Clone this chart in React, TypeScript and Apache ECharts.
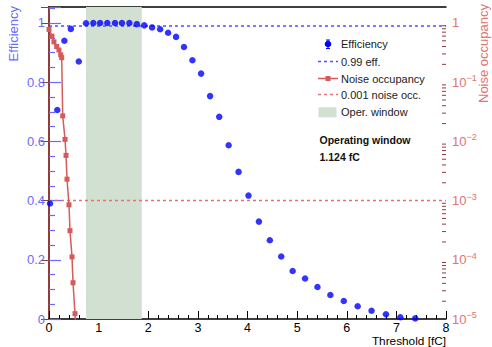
import React, { useEffect, useRef } from "react";
import * as echarts from "echarts";

// Efficiency scan (threshold in fC, efficiency)
const effThreshold = [0.02, 0.167, 0.31, 0.44, 0.6, 0.746, 0.894, 1.03, 1.175, 1.33, 1.47, 1.62, 1.77, 1.92, 2.077, 2.24, 2.4, 2.56, 2.72, 2.89, 3.065, 3.246, 3.43, 3.62, 3.82, 4.02, 4.23, 4.45, 4.68, 4.91, 5.16, 5.41, 5.67, 5.94, 6.22, 6.5, 6.79, 7.08, 7.38];
const effValue = [0.39, 0.706, 0.94, 0.98, 0.87, 0.999, 1.0, 1.0, 1.0, 1.0, 1.0, 1.0, 0.996, 0.992, 0.985, 0.979, 0.967, 0.953, 0.919, 0.874, 0.829, 0.753, 0.683, 0.587, 0.497, 0.417, 0.329, 0.266, 0.211, 0.162, 0.137, 0.108, 0.081, 0.061, 0.043, 0.028, 0.016, 0.006, 0.002];

// Noise occupancy scan
const noiseThreshold = [0.0, 0.06, 0.1, 0.155, 0.2, 0.236, 0.256, 0.276, 0.323, 0.343, 0.363, 0.403, 0.423, 0.464, 0.484, 0.524, 0.55];
const noiseValue = [0.78, 0.6, 0.48, 0.4, 0.35, 0.29, 0.26, 0.027, 0.0108, 0.0058, 0.0023, 8.5e-4, 3.1e-4, 1.12e-4, 4.1e-5, 1.23e-5, 4e-6];

// Reference levels and operating window
const effLevel = 0.99;
const noiseLevel = 0.001;
const operWindow = [0.745, 1.869];
const xRange = [0, 8];
const effRange = [0, 1.054];
const noiseRange = [1e-5, 1.862];

// log-axis minor tick positions (2..9 x 10^n) on the noise axis
const decades = [-5, -4, -3, -2, -1, 0];
const minorMultipliers = [2, 3, 4, 5, 6, 7, 8, 9];

const legendLabels = ["Efficiency", "0.99 eff.", "Noise occupancy", "0.001 noise occ.", "Oper. window"];
const infoLines = ["Operating window", "1.124 fC"];

const FONT = "'Liberation Sans', Arial, Helvetica, sans-serif";
const BLUE = "#0000ff";
const BLUE_AX = "#6a6aff";
const RED = "#d65a5a";
const RED_AX = "#e07474";
const RED_LINE = "#8e3c3c";
const GREEN = "#d1e0d1";

export default function App() {
  const ref = useRef<HTMLDivElement>(null);
  useEffect(() => {
    if (!ref.current) return;
    const chart = echarts.init(ref.current, null, { renderer: "svg" });
    const legendY = [44, 61.5, 78.5, 94.5, 112];
    const minorTickValues: number[] = [];
    decades.forEach((d) =>
      minorMultipliers.forEach((m) => {
        const v = m * Math.pow(10, d);
        if (v < noiseRange[1]) minorTickValues.push(v);
      })
    );
    const option: any = {
      animation: false,
      textStyle: { fontFamily: FONT },
      grid: { left: 49, right: 46, top: 7, bottom: 28, containLabel: false },
      xAxis: [
        {
          type: "value",
          min: xRange[0],
          max: xRange[1],
          interval: 1,
          position: "bottom",
          axisLine: { lineStyle: { color: "#000", width: 1.5 } },
          axisTick: { inside: true, length: 8, lineStyle: { color: "#000", width: 1 } },
          minorTick: { show: true, splitNumber: 5, length: 4, lineStyle: { color: "#000", width: 1 } },
          axisLabel: { color: "#000", fontSize: 12.5, margin: 2, lineHeight: 13, fontFamily: FONT },
          splitLine: { show: false },
        },
        {
          type: "value",
          min: xRange[0],
          max: xRange[1],
          position: "top",
          axisLine: { lineStyle: { color: "#000", width: 1.5 } },
          axisTick: { show: false },
          axisLabel: { show: false },
          splitLine: { show: false },
        },
      ],
      yAxis: [
        {
          type: "value",
          min: effRange[0],
          max: effRange[1],
          interval: 0.2,
          position: "left",
          axisLine: { show: true, lineStyle: { color: "#000", width: 1.5 } },
          axisTick: { inside: true, length: 12, lineStyle: { color: BLUE_AX, width: 1.2 } },
          minorTick: { show: true, splitNumber: 4, length: 6, lineStyle: { color: BLUE_AX, width: 1.2 } },
          axisLabel: {
            color: BLUE_AX,
            fontSize: 13,
            margin: 4,
            fontFamily: FONT,
            formatter: (v: number) =>
              Math.abs(v * 5 - Math.round(v * 5)) < 1e-6 ? String(+v.toFixed(1)) : "",
          },
          splitLine: { show: false },
        },
        {
          type: "log",
          logBase: 10,
          min: noiseRange[0],
          max: noiseRange[1],
          position: "right",
          axisLine: { show: true, lineStyle: { color: RED_LINE, width: 2 } },
          axisTick: { inside: true, length: 8, lineStyle: { color: RED_LINE, width: 1 } },
          minorTick: { show: false },
          axisLabel: {
            margin: 6,
            fontFamily: FONT,
            formatter: (v: number) => {
              const l = Math.log10(v);
              const e = Math.round(l);
              if (Math.abs(l - e) > 1e-6) return "";
              if (e === 0) return "{b|1}";
              return "{b|10}{s|\u2212" + -e + "}";
            },
            rich: {
              b: { fontSize: 13, color: RED_AX, fontFamily: FONT },
              s: { fontSize: 9, color: RED_AX, fontFamily: FONT, verticalAlign: "bottom", padding: [0, 0, 8, 0] },
            },
          },
          splitLine: { show: false },
        },
      ],
      series: [
        {
          type: "line",
          data: [],
          z: 1,
          silent: true,
          markArea: {
            silent: true,
            itemStyle: { color: GREEN },
            data: [[{ xAxis: operWindow[0] }, { xAxis: operWindow[1] }]],
          },
        },
        {
          type: "custom",
          yAxisIndex: 1,
          silent: true,
          z: 6,
          clip: true,
          data: minorTickValues.map((v) => [xRange[1], v]),
          renderItem: (params: any, api: any) => {
            const p = api.coord([api.value(0), api.value(1)]);
            return {
              type: "line",
              shape: { x1: p[0] - 4, y1: p[1], x2: p[0], y2: p[1] },
              style: { stroke: RED_LINE, lineWidth: 1 },
            };
          },
        },
        {
          type: "line",
          data: [
            [xRange[0], effLevel],
            [xRange[1], effLevel],
          ],
          symbol: "none",
          z: 3,
          lineStyle: { color: "#4f4fff", width: 1.5, type: [3, 3] },
        },
        {
          type: "line",
          yAxisIndex: 1,
          data: [
            [xRange[0], noiseLevel],
            [xRange[1], noiseLevel],
          ],
          symbol: "none",
          z: 3,
          lineStyle: { color: RED_AX, width: 1.5, type: [3, 3] },
        },
        {
          type: "line",
          yAxisIndex: 1,
          data: noiseThreshold.map((x, i) => [x, noiseValue[i]]),
          symbol: "rect",
          symbolSize: 5,
          clip: true,
          z: 4,
          lineStyle: { color: RED, width: 1.5 },
          itemStyle: { color: RED },
        },
        {
          type: "scatter",
          data: effThreshold.map((x, i) => [x, effValue[i]]),
          symbol: "circle",
          symbolSize: 6.5,
          z: 5,
          itemStyle: { color: BLUE },
        },
      ],
      graphic: [
        {
          type: "text",
          x: 13,
          y: 6,
          rotation: Math.PI / 2,
          style: { text: "Efficiency", fontSize: 13, fill: BLUE_AX, align: "right", verticalAlign: "middle", fontFamily: FONT },
        },
        {
          type: "text",
          x: 483,
          y: 4,
          rotation: Math.PI / 2,
          style: { text: "Noise occupancy", fontSize: 13, fill: RED_AX, align: "right", verticalAlign: "middle", fontFamily: FONT },
        },
        {
          type: "text",
          x: 446,
          y: 340.5,
          style: { text: "Threshold [fC]", fontSize: 11.8, fill: "#000", align: "right", verticalAlign: "middle", fontFamily: FONT },
        },
        // legend entries
        { type: "line", shape: { x1: 328, y1: 40, x2: 328, y2: 48.5 }, style: { stroke: BLUE, lineWidth: 1 } },
        { type: "line", shape: { x1: 326, y1: 40, x2: 330, y2: 40 }, style: { stroke: BLUE, lineWidth: 1 } },
        { type: "line", shape: { x1: 326, y1: 48.5, x2: 330, y2: 48.5 }, style: { stroke: BLUE, lineWidth: 1 } },
        { type: "circle", shape: { cx: 328, cy: legendY[0], r: 3.3 }, style: { fill: BLUE } },
        { type: "line", shape: { x1: 318, y1: legendY[1], x2: 338, y2: legendY[1] }, style: { stroke: "#4f4fff", lineWidth: 1.5, lineDash: [3, 3] } },
        { type: "line", shape: { x1: 318, y1: legendY[2], x2: 338, y2: legendY[2] }, style: { stroke: RED, lineWidth: 1.5 } },
        { type: "rect", shape: { x: 325.5, y: legendY[2] - 2.5, width: 5, height: 5 }, style: { fill: RED } },
        { type: "line", shape: { x1: 318, y1: legendY[3], x2: 338, y2: legendY[3] }, style: { stroke: RED_AX, lineWidth: 1.5, lineDash: [3, 3] } },
        { type: "rect", shape: { x: 318.5, y: 107.3, width: 18, height: 10 }, style: { fill: GREEN } },
        ...legendLabels.map((t, i) => ({
          type: "text",
          x: 341,
          y: legendY[i],
          style: { text: t, fontSize: 11, fill: "#222", align: "left", verticalAlign: "middle", fontFamily: FONT },
        })),
        ...infoLines.map((t, i) => ({
          type: "text",
          x: 319.5,
          y: 140 + i * 17,
          style: { text: t, fontSize: 10.5, fontWeight: "bold", fill: "#111", align: "left", verticalAlign: "middle", fontFamily: FONT },
        })),
      ],
    };
    chart.setOption(option);
    return () => chart.dispose();
  }, []);
  return <div ref={ref} style={{ width: 492, height: 347, position: "absolute", left: 0, top: 0 }} />;
}
